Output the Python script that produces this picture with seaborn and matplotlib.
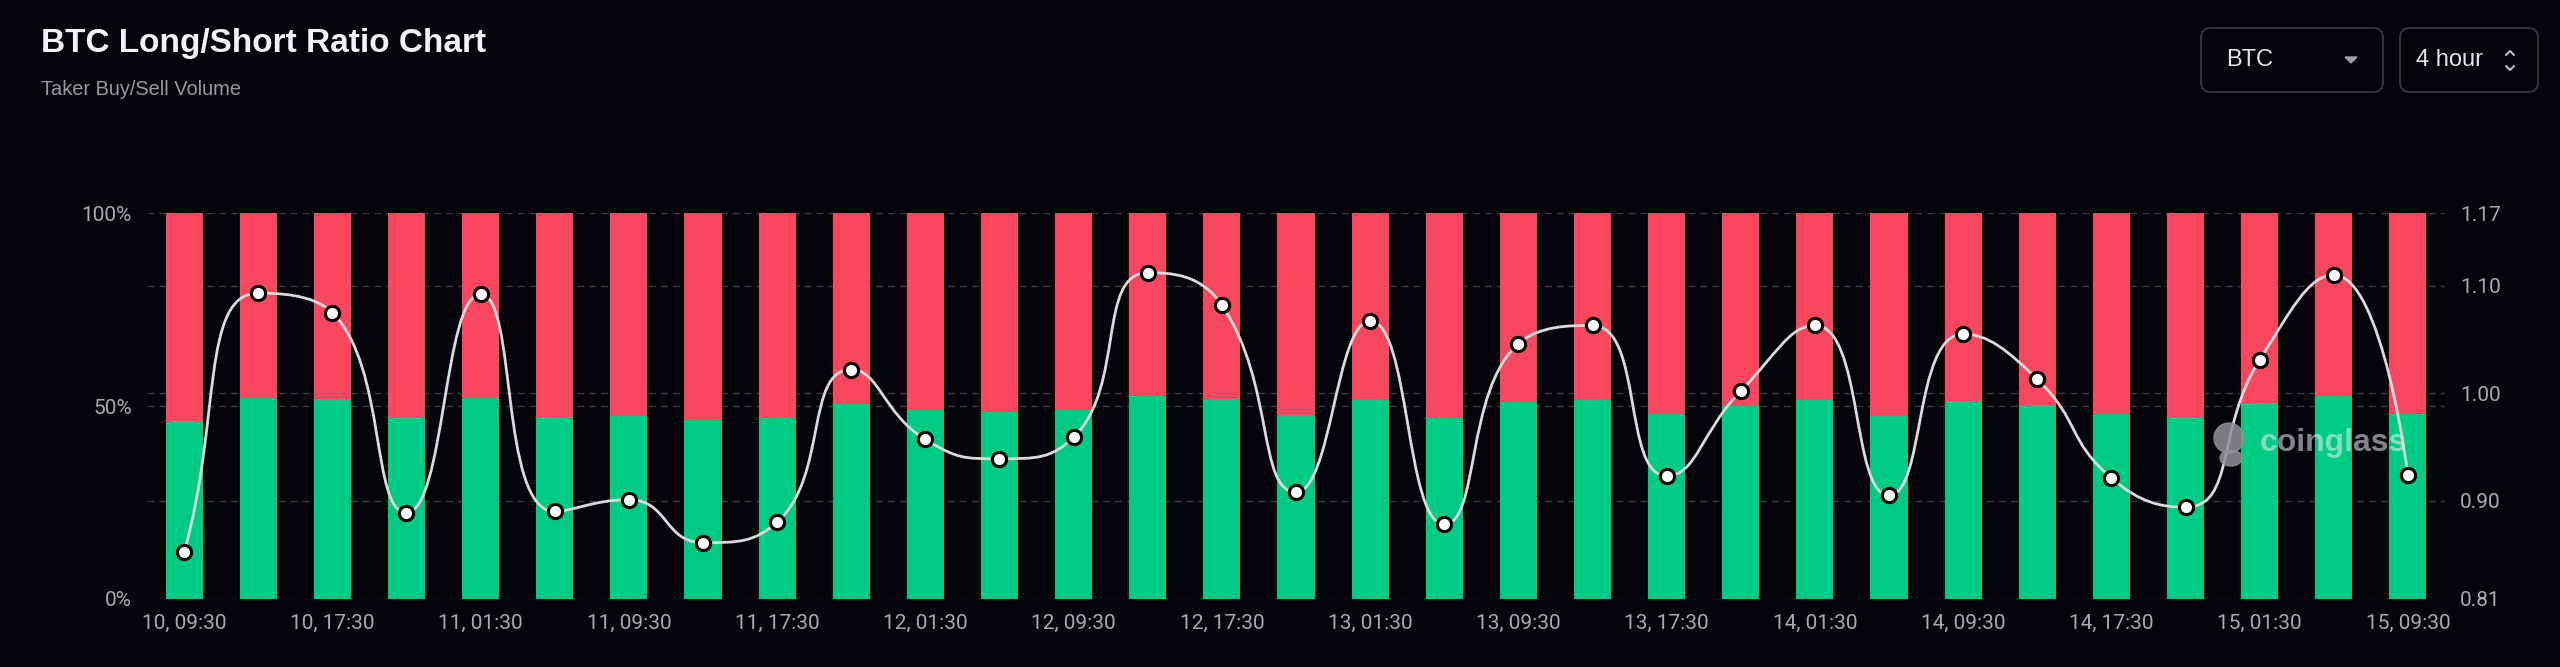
import numpy as np
import pandas as pd
import seaborn as sns
from matplotlib import pyplot as plt
from matplotlib import transforms as mtransforms
from matplotlib.path import Path
from matplotlib.patches import PathPatch, FancyBboxPatch, Polygon, Ellipse

times = ["10, 09:30", "10, 13:30", "10, 17:30", "10, 21:30", "11, 01:30", "11, 05:30",
         "11, 09:30", "11, 13:30", "11, 17:30", "11, 21:30", "12, 01:30", "12, 05:30",
         "12, 09:30", "12, 13:30", "12, 17:30", "12, 21:30", "13, 01:30", "13, 05:30",
         "13, 09:30", "13, 13:30", "13, 17:30", "13, 21:30", "14, 01:30", "14, 05:30",
         "14, 09:30", "14, 13:30", "14, 17:30", "14, 21:30", "15, 01:30", "15, 05:30",
         "15, 09:30"]
# taker buy share in %, sell share is the rest
long_pct = [46.1, 52.2, 51.9, 47.1, 52.2, 47.1, 47.4, 46.3, 46.8, 50.6, 48.9, 48.5, 49.0, 52.7, 51.9, 47.6,
            51.7, 46.8, 51.2, 51.6, 48.0, 50.1, 51.6, 47.5, 51.4, 50.3, 48.0, 47.3, 50.8, 52.6, 48.0]
short_pct = [round(100 - v, 1) for v in long_pct]
ratio = [0.852, 1.093, 1.075, 0.889, 1.092, 0.890, 0.901, 0.861, 0.880, 1.022, 0.957, 0.939, 0.959, 1.112,
         1.082, 0.908, 1.067, 0.878, 1.046, 1.063, 0.923, 1.002, 1.063, 0.905, 1.055, 1.013, 0.921, 0.894,
         1.031, 1.110, 0.924]
pct_ticks = [0, 50, 100]
pct_labels = ["0%", "50%", "100%"]
ratio_lim = (0.8086, 1.1673)
ratio_ticks = [0.8086, 0.90, 1.00, 1.10, 1.1673]
ratio_labels = ["0.81", "0.90", "1.00", "1.10", "1.17"]
ratio_grid = [0.90, 1.00, 1.10]

BG = "#04050a"
GREEN = "#00cb86"
RED = "#fa4760"
GRID = "#3a3b40"
LABEL = "#aaaaae"
W, H = 2560, 667
NARROW = ["Liberation Sans Narrow", "Roboto", "DejaVu Sans"]
SANS = ["Liberation Sans", "DejaVu Sans"]


def smooth_path(px, py, smooth=0.5):
    # echarts-like clamped bezier smoothing, in pixel space
    n = len(px)
    verts = [(px[0], py[0])]
    codes = [Path.MOVETO]
    prev_x, prev_y = px[0], py[0]
    cp0x, cp0y = px[0], py[0]
    for i in range(n):
        x, y = px[i], py[i]
        if i < n - 1:
            nx, ny = px[i + 1], py[i + 1]
            if i == 0:
                ncp0x, ncp0y = x + (nx - x) * smooth, y + (ny - y) * smooth
                cp1x, cp1y = x, y
            else:
                vx, vy = nx - prev_x, ny - prev_y
                len_prev = np.hypot(x - prev_x, y - prev_y)
                len_next = np.hypot(nx - x, ny - y)
                r = len_next / (len_next + len_prev)
                ncp0x = x + vx * smooth * r
                ncp0y = y + vy * smooth * r
                ncp0x = min(max(ncp0x, min(nx, x)), max(nx, x))
                ncp0y = min(max(ncp0y, min(ny, y)), max(ny, y))
                vx, vy = ncp0x - x, ncp0y - y
                cp1x = x - vx * len_prev / len_next
                cp1y = y - vy * len_prev / len_next
                cp1x = min(max(cp1x, min(prev_x, x)), max(prev_x, x))
                cp1y = min(max(cp1y, min(prev_y, y)), max(prev_y, y))
                vx, vy = x - cp1x, y - cp1y
                ncp0x = x + vx * len_next / len_prev
                ncp0y = y + vy * len_next / len_prev
        else:
            cp1x, cp1y = x, y
            ncp0x, ncp0y = x, y
        if i > 0:
            verts += [(cp0x, cp0y), (cp1x, cp1y), (x, y)]
            codes += [Path.CURVE4] * 3
        cp0x, cp0y = ncp0x, ncp0y
        prev_x, prev_y = x, y
    return np.array(verts), codes


sns.set_style("dark")
plt.rcParams["font.family"] = NARROW

df = pd.DataFrame({"time": times, "long": long_pct, "short": short_pct, "ratio": ratio})
df["total"] = df["long"] + df["short"]
df["pos"] = np.arange(len(df))

fig = plt.figure(figsize=(W / 100, H / 100), dpi=100, facecolor=BG)

# pixel-space overlay for header, buttons, watermark
over = fig.add_axes([0, 0, 1, 1])
over.set_xlim(0, W)
over.set_ylim(H, 0)
over.axis("off")

ax = fig.add_axes([147 / W, (H - 599) / H, (2445 - 147) / W, (599 - 213.3) / H])
ax.set_facecolor("none")

sns.barplot(data=df, x="time", y="total", color=RED, width=0.5, saturation=1, linewidth=0, ax=ax, zorder=2)
sns.barplot(data=df, x="time", y="long", color=GREEN, width=0.5, saturation=1, linewidth=0, ax=ax, zorder=3)

ax.set_xlim(-0.5, len(times) - 0.5)
ax.set_ylim(0, 100)
ax.set_xlabel("")
ax.set_ylabel("")
ax.grid(False)
for s in ax.spines.values():
    s.set_visible(False)

ax.set_yticks(pct_ticks, pct_labels)
ax.set_xticks(range(0, len(times), 2), times[::2])
ax.set_xticks(list(np.arange(-0.5, len(times), 2)) + [len(times) - 0.5], minor=True)
ax.tick_params(axis="x", which="major", length=0, pad=11, labelsize=15, labelcolor=LABEL)
ax.tick_params(axis="x", which="minor", length=5, width=0.8, color="#55565c")
ax.tick_params(axis="y", length=0, pad=11, labelsize=15, labelcolor=LABEL)

ax2 = ax.twinx()
ax2.set_ylim(*ratio_lim)
ax2.set_yticks(ratio_ticks, ratio_labels)
ax2.tick_params(axis="y", length=0, pad=11, labelsize=15, labelcolor=LABEL)
ax2.grid(False)
for s in ax2.spines.values():
    s.set_visible(False)

# dashed grid below the bars, for both scales
for v in pct_ticks:
    ax.axhline(v, color=GRID, lw=1.0, ls=(0, (5, 3.6)), zorder=1)
blend = mtransforms.blended_transform_factory(ax.transAxes, ax2.transData)
for v in ratio_grid:
    ax.plot([0, 1], [v, v], transform=blend, color=GRID, lw=1.0, ls=(0, (5, 3.6)), zorder=1)

# smooth ratio line
disp = ax2.transData.transform(np.column_stack([df["pos"], df["ratio"]]))
verts, codes = smooth_path(disp[:, 0], disp[:, 1])
verts_data = ax2.transData.inverted().transform(verts)
ax2.add_patch(PathPatch(Path(verts_data, codes), facecolor="none", edgecolor="#dadada", lw=2.0, zorder=3))

# watermark
ax2.add_patch(Ellipse((2229, 438), 30, 30, transform=over.transData, color="#919194", alpha=0.85, zorder=4))
ax2.add_patch(Ellipse((2231, 458), 22, 16, transform=over.transData, color="#919194", alpha=0.85, zorder=4))
ax2.text(2260, 443, "coinglass", transform=over.transData, color="#ececec", alpha=0.55, fontsize=23,
         fontweight="bold", family=SANS, ha="left", va="center", zorder=4)

sns.scatterplot(data=df, x="pos", y="ratio", ax=ax2, s=105, color="white", edgecolor="black",
                linewidth=2.2, zorder=5)
ax2.set_xlabel("")
ax2.set_ylabel("")

# header
over.text(41, 52, "BTC Long/Short Ratio Chart", color="#f2f2f5", fontsize=24, fontweight="bold",
          family=SANS, ha="left", va="baseline")
over.text(41, 95, "Taker Buy/Sell Volume", color="#9a9a9e", fontsize=14.4, family=SANS,
          ha="left", va="baseline")

# selector buttons
for x0, x1 in [(2201, 2383), (2400, 2538)]:
    over.add_patch(FancyBboxPatch((x0, 28), x1 - x0, 64, boxstyle="round,pad=0,rounding_size=10",
                                  facecolor=BG, edgecolor="#34353a", lw=1.4))
over.text(2226, 60, "BTC", color="#e4e4e6", fontsize=17, family=SANS, ha="left", va="center")
over.add_patch(Polygon([(2345, 57), (2357, 57), (2351, 63)], closed=True, color="#a0a0a4"))
over.text(2416, 60, "4 hour", color="#e4e4e6", fontsize=17, family=SANS, ha="left", va="center")
over.plot([2506, 2510, 2514], [55, 51, 55], color="#c8c8cc", lw=1.4)
over.plot([2506, 2510, 2514], [66, 70, 66], color="#c8c8cc", lw=1.4)

plt.savefig("out.png", dpi=100, facecolor=BG)
